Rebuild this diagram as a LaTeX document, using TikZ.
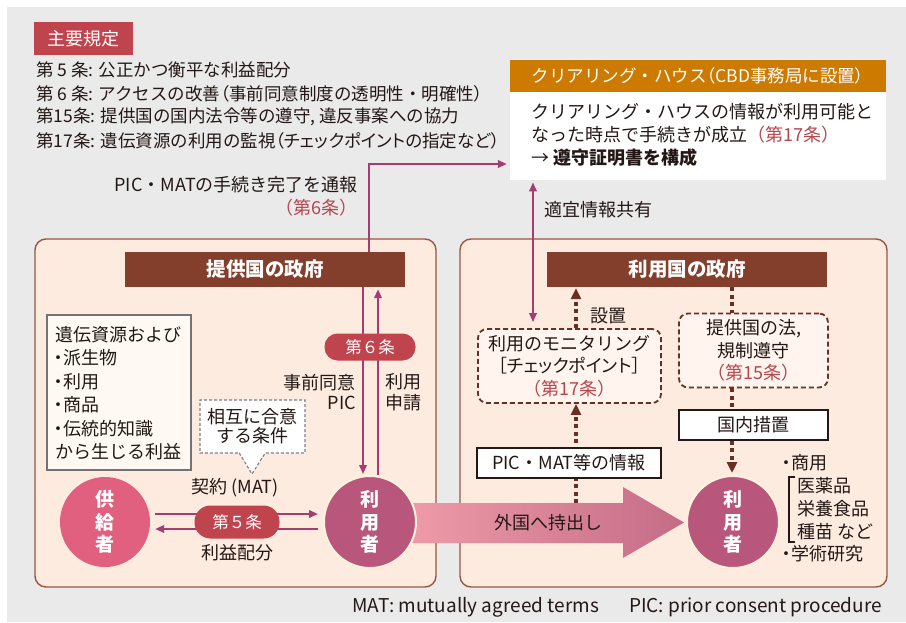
\documentclass[tikz,border=0pt]{standalone}
\usepackage{fontspec}
\setmainfont{Noto Sans CJK JP}
\newfontfamily\pf{Noto Sans CJK JP}[RawFeature=+palt]
\usetikzlibrary{calc,arrows.meta,shapes.callouts}
\definecolor{bgc}{HTML}{EAEAEA}
\definecolor{panelc}{HTML}{FDEBDF}
\definecolor{panelb}{HTML}{9A5541}
\definecolor{govc}{HTML}{843F2C}
\definecolor{redp}{HTML}{C0444E}
\definecolor{orangec}{HTML}{CC7A00}
\definecolor{magc}{HTML}{A63D72}
\definecolor{dotb}{HTML}{6B2E24}
\definecolor{supc}{HTML}{E2607F}
\definecolor{usec}{HTML}{B8567B}
\definecolor{redt}{HTML}{B5474F}
\definecolor{txt}{HTML}{231815}
\definecolor{haloc}{HTML}{FFF1DC}
\definecolor{pinkL}{HTML}{EE9AA8}
\definecolor{pinkR}{HTML}{C46C87}
\definecolor{genfill}{HTML}{FFF8F3}
\definecolor{monfill}{HTML}{FFF4EE}
\newcommand\myfs[2]{\fontsize{#1}{#2}\selectfont}
\newcommand\lpar{{\pf （}}
\newcommand\rpar{{\pf ）}}
\newcommand\pdot{{\pf ・}}
\begin{document}
\begin{tikzpicture}[x=1pt,y=-1pt,
  every node/.style={text=txt, inner sep=0pt, font=\myfs{18}{23.5}},
  rule/.style={anchor=west, font=\myfs{17.5}{23.5}},
  panelbox/.style={draw=panelb, line width=1.4pt, fill=panelc, rounded corners=11pt, minimum height=348pt},
  govbox/.style={fill=govc, text=white, font=\myfs{19.5}{23}\bfseries, minimum width=280pt, minimum height=35pt},
  pill/.style={fill=redp, text=white, rounded corners=13pt, font=\myfs{16.5}{20}},
  personc/.style={circle, text=white, font=\myfs{19}{22.5}\bfseries, align=center},
  magarr/.style={draw=magc, line width=2pt, -{Triangle[length=9pt,width=7.5pt]}},
  magarrb/.style={draw=magc, line width=2pt, {Triangle[length=9pt,width=7.5pt]}-{Triangle[length=9pt,width=7.5pt]}},
  dotline/.style={draw=dotb, line width=3.5pt, dash pattern=on 4pt off 3.5pt},
  dotarr/.style={dotline, -{Triangle[length=11pt,width=10pt]}},
  dashbox/.style={draw=dotb, line width=1.8pt, dash pattern=on 5pt off 3pt, fill=monfill, rounded corners=9pt, align=center},
  plainbox/.style={draw=txt, line width=1.2pt, fill=white}
]
\useasboundingbox (0,0) rectangle (906,622);
\fill[white] (0,0) rectangle (906,622);
\fill[bgc] (7,7) rectangle (906,622);

% key provisions
\node[fill=redp, text=white, minimum width=99pt, minimum height=33pt] (mainlbl) at (83.5,38.5) {主要規定};
\node[rule] (r1) at (36,70) {第 5 条: 公正かつ衡平な利益配分};
\node[rule] (r2) at (36,93.5) {第 6 条: アクセスの改善\lpar 事前同意制度の透明性・明確性\rpar};
\node[rule] (r3) at (36,117) {第15条: 提供国の国内法令等の遵守, 違反事案への協力};
\node[rule] (r4) at (36,140.5) {第17条: 遺伝資源の利用の監視{\pf（チェックポイントの指定など）}};

% clearing house
\node[fill=orangec, text=white, minimum width=376pt, minimum height=32pt, font=\myfs{17.5}{20}] (chh) at (698,76) {クリアリング・ハウス\lpar CBD事務局に設置\rpar};
\node[fill=white, minimum width=376pt, minimum height=88pt, anchor=north] (chb) at (698,92) {};
\node[anchor=west] (c1) at (531,112) {クリアリング・ハウスの情報が利用可能と};
\node[anchor=west] (c2) at (531,135) {なった時点で手続きが成立\textcolor{redt}{（第17条）}};
\node[anchor=west] (c3) at (531,158) {→ {\bfseries 遵守証明書を構成}};

% panels
\node[panelbox, minimum width=401pt] (pL) at (235.5,413) {};
\node[panelbox, minimum width=427pt] (pR) at (673.5,413) {};

% governments
\node[govbox] (govL) at (265,269.5) {提供国の政府};
\node[govbox] (govR) at (687,269.5) {利用国の政府};

% labels top
\node[anchor=east] (notify) at (358,185) {PIC・MATの手続き完了を通報};
\node[anchor=east, text=redt] (notifyart) at (358,208) {（第6条）};
\node[anchor=west] (share) at (544,210) {適宜情報共有};

% genetic resources box
\node[draw=gray!90!black, line width=1.2pt, fill=genfill, minimum width=144pt, minimum height=155pt] (gen) at (119,392.5) {};
\node[anchor=west] (g1) at (55,335) {遺伝資源および};
\node[anchor=west] (g2) at (54,358) {\pdot 派生物};
\node[anchor=west] (g3) at (54,381.5) {\pdot 利用};
\node[anchor=west] (g4) at (54,405) {\pdot 商品};
\node[anchor=west] (g5) at (54,428.5) {\pdot 伝統的知識};
\node[anchor=west] (g6) at (55,452) {から生じる利益};

% big export arrow
\shade[left color=pinkL, right color=pinkR] (412,503) -- (623,503) -- (623,487) -- (684,522.5) -- (623,558) -- (623,543) -- (412,543) -- cycle;
\node (export) at (548,523) {外国へ持出し};

% persons
\node[personc, fill=supc, minimum size=90pt] (sup) at (105,522) {供\\給\\者};
\node[personc, fill=usec, draw=haloc, line width=2pt, minimum size=92pt] (userL) at (370,522) {利\\用\\者};
\node[personc, fill=usec, draw=haloc, line width=2pt, minimum size=92pt] (userR) at (733,522) {利\\用\\者};

% column helpers
\coordinate (colD) at (363,0);
\coordinate (colU) at (378,0);
\coordinate (colT) at (369,0);
\coordinate (arrY) at (0,164);
\coordinate (colS) at (533,0);
\coordinate (colM) at (576,0);
\coordinate (colL) at (732,0);
\coordinate (bigtop) at (576,503);

% left vertical arrows
\draw[magarr, shorten >=1pt] (govL.south -| colD) -- (userL.north -| colD);
\draw[magarr, shorten >=2pt] (userL.north -| colU) -- (govL.south -| colU);
\draw[magarr, shorten >=3pt] (govL.north -| colT) |- (chb.west |- arrY);
\node[pill, minimum width=91pt, minimum height=27pt] (art6) at (370,347) {第６条};
\node[anchor=east, align=right, font=\myfs{18}{20.5}] (pic) at (356,392) {事前同意\\PIC};
\node[anchor=west, align=left, font=\myfs{18}{20.5}] (apply) at (385,392) {利用\\申請};

% contract arrows
\draw[magarr] ($(sup.east)+(5,-8)$) -- ($(userL.west)+(-5,-8)$);
\draw[magarr] ($(userL.west)+(-5,7)$) -- ($(sup.east)+(5,7)$);
\node[pill, minimum width=85pt, minimum height=33pt, rounded corners=16pt] (art5) at (237,522) {第５条};
\node (mat) at (235,488) {契約 (MAT)};
\node (benefit) at (237,553) {利益配分};
\coordinate (ptr) at (252,474);
\node[rectangle callout, draw=gray, line width=1.1pt, dash pattern=on 3pt off 2pt, fill=white, minimum width=105pt, minimum height=53pt, callout absolute pointer={(ptr)}, callout pointer width=26pt, align=center, font=\myfs{18}{19}] (mutual) at (252.5,426.5) {相互に合意\\する条件};

% right side boxes
\node[dashbox, minimum width=183pt, minimum height=74pt, font=\myfs{18}{22.5}] (mon) at (569.5,366) {利用のモニタリング\\{\pf ［チェックポイント］}\\\textcolor{redt}{（第17条）}};
\node[dashbox, minimum width=149pt, minimum height=74pt, font=\myfs{18}{22.5}] (law) at (753.5,350.5) {提供国の法,\\規制遵守\\\textcolor{redt}{（第15条）}};
\node[plainbox, minimum width=149pt, minimum height=30pt] (dom) at (753.5,425) {国内措置};

% arrows right
\draw[magarrb, shorten <=6pt, shorten >=2pt] (mon.north -| colS) -- (chb.south -| colS);
\draw[dotarr, shorten >=1pt] (mon.north -| colM) -- (govR.south -| colM);
\node (setup) at (608,316) {設置};
\draw[dotarr] (bigtop) -- (mon.south -| colM);
\node[plainbox, minimum width=184pt, minimum height=30pt] (picmat) at (569,463) {PIC・MAT等の情報};
\draw[dotline] (govR.south -| colL) -- (law.north -| colL);
\draw[dotline] (law.south -| colL) -- (dom.north -| colL);
\draw[dotarr, shorten >=2pt] (dom.south -| colL) -- (userR.north -| colL);

% uses list
\node[anchor=west] (u1) at (782,463) {\pdot 商用};
\node[anchor=west] (u2) at (797,486) {医薬品};
\node[anchor=west] (u3) at (797,509) {栄養食品};
\node[anchor=west] (u4) at (797,532) {種苗 など};
\node[anchor=west] (u5) at (782,554) {\pdot 学術研究};
\draw[txt, line width=1.1pt] ($(u2.west)+(-2,-9)$) -- ++(-6,0) |- ($(u4.west)+(-2,10)$);

% footer
\node[anchor=west, font=\myfs{19}{23}] (foot1) at (352,607) {MAT: mutually agreed terms};
\node[anchor=east, font=\myfs{19}{23}] (foot2) at (882,607) {PIC: prior consent procedure};
\end{tikzpicture}
\end{document}
